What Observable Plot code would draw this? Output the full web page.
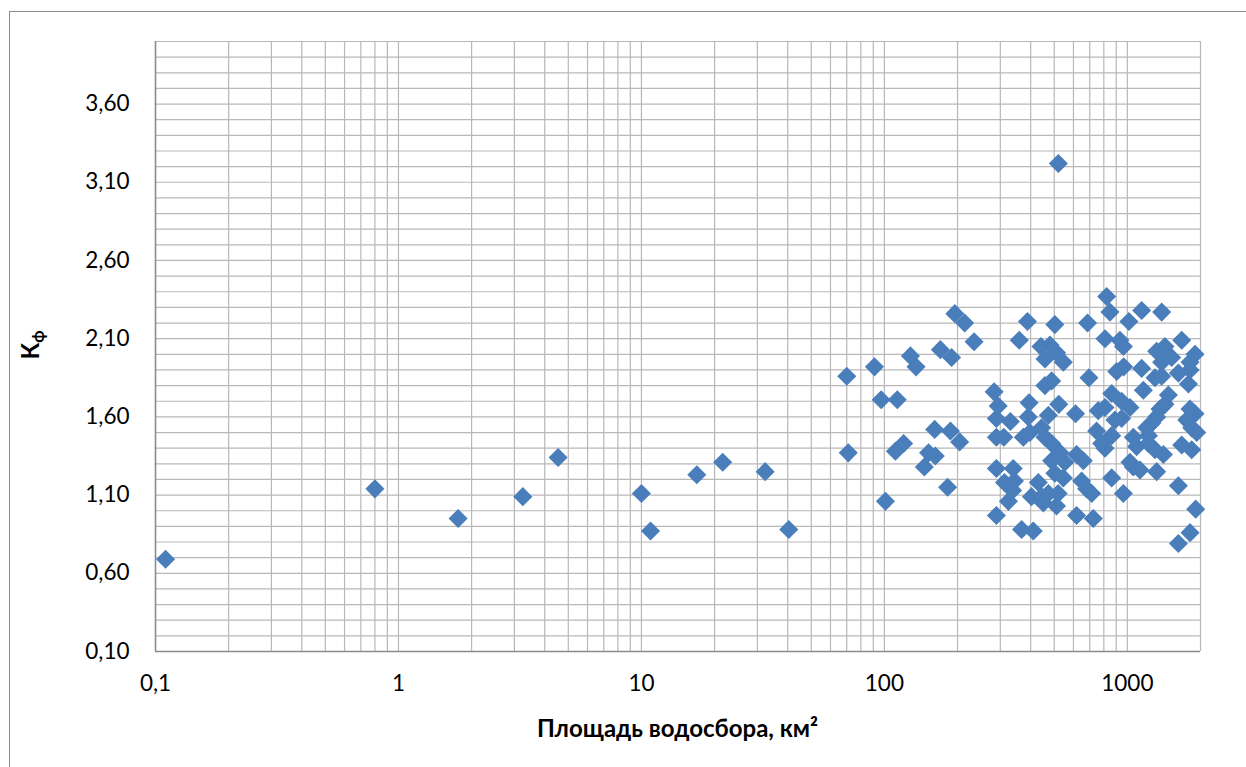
<!DOCTYPE html>
<html>
<head>
<meta charset="utf-8">
<script src="https://cdn.jsdelivr.net/npm/d3@7"></script>
<script src="https://cdn.jsdelivr.net/npm/@observablehq/plot@0.6"></script>
<style>
  html, body { margin: 0; padding: 0; background: #fff; }
  #chart { position: relative; width: 1246px; height: 767px; overflow: hidden; }
  #chart svg { position: absolute; left: 0; top: 0; }
  #frame {
    position: absolute; left: 9px; top: 11px; width: 1400px; height: 900px;
    border-left: 1.5px solid #8a8a8a; border-top: 1.5px solid #8a8a8a;
    pointer-events: none;
  }
</style>
</head>
<body>
<div id="chart"></div>
<script>
// Площадь водосбора (км²) и коэффициент Кф для каждого водосбора
const area = [
  0.11, 0.80, 1.76, 3.25, 4.54, 10.0, 10.9, 16.9, 21.6, 32.3, 40.4,
  70, 91, 97, 113, 71, 101, 128, 135, 170, 189, 195, 214, 234, 359, 388,
  283, 294, 289, 330, 289, 310, 394, 161, 187, 204, 120, 111, 152, 162, 146,
  182, 289, 339, 312, 343, 337, 324, 289, 367, 410,
  503, 441, 480, 511, 458, 545, 488, 458, 391, 522, 473, 612, 373, 397, 444,
  458, 488, 488, 528, 553, 430, 503, 545, 403, 444, 473, 519, 451, 511, 520,
  822, 848, 686, 1015, 1145, 1384, 809, 932, 963, 1674, 1320, 1428, 1522, 1384,
  1899, 1811, 904, 966, 1145, 1299, 1384, 1622, 1811, 1784, 695, 1164, 862, 947,
  1025, 809, 759, 1475, 1428, 1362, 1811, 1899, 889, 947, 1320, 1259, 1755, 1840,
  1930, 747, 862, 1201, 1221, 784, 809, 1058, 1092, 1221, 1299, 1407, 1674, 1840,
  618, 659, 1025, 1058, 1127, 1320, 862, 648, 680, 713, 963, 1622, 1911, 618,
  724, 1811, 1622
];
const kf = [
  0.69, 1.14, 0.95, 1.09, 1.34, 1.11, 0.87, 1.23, 1.31, 1.25, 0.88,
  1.86, 1.92, 1.71, 1.71, 1.37, 1.06, 1.99, 1.92, 2.03, 1.98, 2.26, 2.20, 2.08, 2.09, 2.21,
  1.76, 1.67, 1.59, 1.57, 1.47, 1.47, 1.69, 1.52, 1.51, 1.44, 1.43, 1.38, 1.37, 1.35, 1.28,
  1.15, 1.27, 1.27, 1.18, 1.19, 1.13, 1.06, 0.97, 0.88, 0.87,
  2.19, 2.05, 2.06, 2.01, 1.97, 1.95, 1.83, 1.80, 1.60, 1.68, 1.61, 1.62, 1.47, 1.50, 1.53,
  1.47, 1.43, 1.32, 1.37, 1.31, 1.18, 1.24, 1.21, 1.09, 1.09, 1.11, 1.11, 1.05, 1.03, 3.22,
  2.37, 2.27, 2.20, 2.21, 2.28, 2.27, 2.10, 2.09, 2.05, 2.09, 2.02, 2.05, 1.98, 1.95,
  2.00, 1.95, 1.89, 1.92, 1.91, 1.85, 1.86, 1.88, 1.90, 1.81, 1.85, 1.77, 1.75, 1.70,
  1.66, 1.66, 1.64, 1.74, 1.68, 1.65, 1.65, 1.62, 1.58, 1.59, 1.60, 1.56, 1.58, 1.53,
  1.50, 1.51, 1.48, 1.53, 1.48, 1.43, 1.40, 1.47, 1.41, 1.43, 1.39, 1.36, 1.42, 1.39,
  1.36, 1.32, 1.31, 1.28, 1.26, 1.25, 1.21, 1.19, 1.14, 1.11, 1.11, 1.16, 1.01, 0.97,
  0.95, 0.86, 0.79
];

// Подписи осей
const xTicks = [0.1, 1, 10, 100, 1000];
const yTicks = [0.1, 0.6, 1.1, 1.6, 2.1, 2.6, 3.1, 3.6];
const xDomain = [0.1, 2000];
const yDomain = [0.1, 4.0];
const xTitle = "Площадь водосбора, км²";
const yTitleMain = "К";
const yTitleSub = "ф";

const points = area.map((a, i) => ({area: a, kf: kf[i]}));

// Логарифмическая сетка: 1..9 в каждой декаде, и линии через 0,1 по оси Кф
const xGrid = [];
for (let p = -1; p <= 3; p++) {
  for (let m = 1; m <= 9; m++) {
    const v = +(m * Math.pow(10, p)).toPrecision(3);
    if (v >= xDomain[0] && v <= xDomain[1]) xGrid.push(v);
  }
}
const yGrid = d3.range(1, 41).map(k => +(k / 10).toFixed(1));

const comma = s => s.replace(".", ",");
const font = "Lato, 'Open Sans', sans-serif";

const chart = Plot.plot({
  width: 1246,
  height: 767,
  marginLeft: 155,
  marginRight: 46,
  marginTop: 41,
  marginBottom: 116,
  style: {fontFamily: font, background: "transparent", color: "#000"},
  x: {type: "log", domain: xDomain, label: null},
  y: {domain: yDomain, label: null},
  marks: [
    Plot.gridX(xGrid, {stroke: "#b8b8b8", strokeOpacity: 1, strokeWidth: 1.2}),
    Plot.gridY(yGrid, {stroke: "#b8b8b8", strokeOpacity: 1, strokeWidth: 1.2}),
    Plot.ruleX([xDomain[0]], {stroke: "#8a8a8a", strokeWidth: 1.5}),
    Plot.ruleY([yDomain[0]], {stroke: "#8a8a8a", strokeWidth: 1.5}),
    Plot.axisX(xTicks, {
      tickSize: 0, tickPadding: 24, fontSize: 22.5,
      tickFormat: d => comma(String(d)), label: null
    }),
    Plot.axisY(yTicks, {
      tickSize: 0, tickPadding: 26, fontSize: 22.5,
      tickFormat: d => comma(d.toFixed(2)), label: null
    }),
    Plot.dot(points, {
      x: "area", y: "kf", symbol: "diamond2", r: 8.6,
      fill: "#4a7ebb", stroke: "none"
    })
  ]
});

const holder = document.getElementById("chart");
holder.appendChild(chart);
const frame = document.createElement("div");
frame.id = "frame";
holder.appendChild(frame);

// Заголовки осей
const svg = d3.select(chart);
svg.append("text")
  .attr("x", 677.5).attr("y", 727)
  .attr("text-anchor", "middle").attr("dominant-baseline", "central")
  .attr("font-family", font).attr("font-weight", "bold").attr("font-size", 24)
  .attr("fill", "#000")
  .text(xTitle);

const yt = svg.append("text")
  .attr("transform", "translate(39,345) rotate(-90)")
  .attr("text-anchor", "middle")
  .attr("font-family", font).attr("font-weight", "bold").attr("font-size", 24)
  .attr("fill", "#000");
yt.append("tspan").text(yTitleMain);
yt.append("tspan").attr("font-size", 17).attr("dy", 5).text(yTitleSub);
</script>
</body>
</html>
